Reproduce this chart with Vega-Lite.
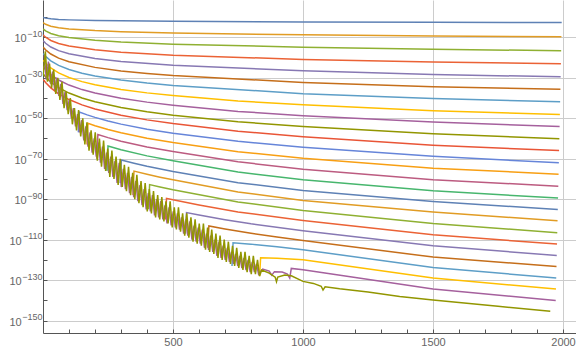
{
"$schema": "https://vega.github.io/schema/vega-lite/v6.json",
"width": 533, "height": 333,
"autosize": {"type": "none"},
"padding": {"left": 43, "top": 0, "right": 0, "bottom": 15},
"background": "white",
"config": {"view": {"stroke": null}},
"data": {"values": [
{"k":1,"x":1,"y":7.2e-1},{"k":1,"x":3,"y":5.4e-1},{"k":1,"x":10,"y":2.8e-1},{"k":1,"x":30,"y":1.2e-1},{"k":1,"x":60,"y":6.17e-2},{"k":1,"x":100,"y":3.8e-2},{"k":1,"x":200,"y":1.95e-2},{"k":1,"x":300,"y":1.32e-2},{"k":1,"x":500,"y":7.94e-3},{"k":1,"x":1000,"y":3.72e-3},{"k":1,"x":1500,"y":2.51e-3},{"k":1,"x":1995,"y":1.74e-3},
{"k":2,"x":1,"y":1.74e-3},{"k":2,"x":3,"y":1e-3},{"k":2,"x":10,"y":2.51e-4},{"k":2,"x":30,"y":2.95e-5},{"k":2,"x":60,"y":5.25e-6},{"k":2,"x":100,"y":1.35e-6},{"k":2,"x":200,"y":1.91e-7},{"k":2,"x":300,"y":5.89e-8},{"k":2,"x":500,"y":1.32e-8},{"k":2,"x":1000,"y":1.51e-9},{"k":2,"x":1500,"y":4.37e-10},{"k":2,"x":1994,"y":1.78e-10},
{"k":3,"x":1,"y":1.35e-6},{"k":3,"x":3,"y":7.41e-7},{"k":3,"x":10,"y":1.45e-7},{"k":3,"x":30,"y":7.59e-9},{"k":3,"x":60,"y":5.89e-10},{"k":3,"x":100,"y":6.92e-11},{"k":3,"x":200,"y":3.09e-12},{"k":3,"x":300,"y":4.57e-13},{"k":3,"x":500,"y":3.89e-14},{"k":3,"x":1000,"y":1.15e-15},{"k":3,"x":1500,"y":1.2e-16},{"k":3,"x":1993,"y":2.19e-17},
{"k":4,"x":1,"y":1.62e-9},{"k":4,"x":3,"y":7.94e-10},{"k":4,"x":10,"y":1.07e-10},{"k":4,"x":30,"y":2.45e-12},{"k":4,"x":60,"y":8.32e-14},{"k":4,"x":100,"y":4.57e-15},{"k":4,"x":200,"y":6.17e-17},{"k":4,"x":300,"y":4.37e-18},{"k":4,"x":500,"y":1.45e-19},{"k":4,"x":1000,"y":9.77e-22},{"k":4,"x":1500,"y":5.75e-23},{"k":4,"x":1992,"y":7.41e-24},
{"k":5,"x":1,"y":2e-12},{"k":5,"x":3,"y":9.55e-13},{"k":5,"x":10,"y":1.07e-13},{"k":5,"x":30,"y":1.45e-15},{"k":5,"x":60,"y":2.45e-17},{"k":5,"x":100,"y":7.08e-19},{"k":5,"x":200,"y":3.24e-21},{"k":5,"x":300,"y":1.15e-22},{"k":5,"x":500,"y":1.51e-24},{"k":5,"x":1000,"y":2.51e-27},{"k":5,"x":1500,"y":3.98e-29},{"k":5,"x":1991,"y":2.82e-30},
{"k":6,"x":1,"y":1.29e-15},{"k":6,"x":3,"y":6.03e-16},{"k":6,"x":10,"y":6.03e-17},{"k":6,"x":30,"y":5.13e-19},{"k":6,"x":60,"y":5.01e-21},{"k":6,"x":100,"y":7.76e-23},{"k":6,"x":200,"y":1.29e-25},{"k":6,"x":300,"y":2.34e-27},{"k":6,"x":400,"y":1.26e-28},{"k":6,"x":500,"y":1.23e-29},{"k":6,"x":1000,"y":5.01e-33},{"k":6,"x":1500,"y":3.98e-35},{"k":6,"x":1990,"y":1.78e-36},
{"k":7,"x":1,"y":8.71e-19},{"k":7,"x":3,"y":3.98e-19},{"k":7,"x":10,"y":3.63e-20},{"k":7,"x":30,"y":2.19e-22},{"k":7,"x":60,"y":1.23e-24},{"k":7,"x":100,"y":1.12e-26},{"k":7,"x":150,"y":1.66e-28},{"k":7,"x":200,"y":7.08e-30},{"k":7,"x":300,"y":6.76e-32},{"k":7,"x":400,"y":2.19e-33},{"k":7,"x":500,"y":1.45e-34},{"k":7,"x":1000,"y":1.26e-38},{"k":7,"x":1500,"y":5.01e-41},{"k":7,"x":1989,"y":1.26e-42},
{"k":8,"x":1,"y":3.89e-22},{"k":8,"x":10,"y":1.48e-23},{"k":8,"x":30,"y":6.61e-26},{"k":8,"x":60,"y":2.4e-28},{"k":8,"x":100,"y":1.29e-30},{"k":8,"x":150,"y":1.17e-32},{"k":8,"x":200,"y":3.31e-34},{"k":8,"x":300,"y":1.66e-36},{"k":8,"x":400,"y":3.31e-38},{"k":8,"x":500,"y":1.48e-39},{"k":8,"x":750,"y":3.16e-42},{"k":8,"x":1000,"y":3.98e-44},{"k":8,"x":1500,"y":5.01e-47},{"k":8,"x":1988,"y":6.31e-49},
{"k":9,"x":1,"y":2.51e-25},{"k":9,"x":10,"y":8.71e-27},{"k":9,"x":30,"y":3.02e-29},{"k":9,"x":60,"y":7.24e-32},{"k":9,"x":100,"y":2.4e-34},{"k":9,"x":150,"y":1.38e-36},{"k":9,"x":200,"y":2.63e-38},{"k":9,"x":300,"y":7.08e-41},{"k":9,"x":400,"y":8.91e-43},{"k":9,"x":500,"y":2.75e-44},{"k":9,"x":750,"y":2.34e-47},{"k":9,"x":1000,"y":1.58e-49},{"k":9,"x":1500,"y":1.26e-52},{"k":9,"x":1987,"y":7.94e-55},
{"k":10,"x":1,"y":7.94e-29},{"k":10,"x":10,"y":2.63e-30},{"k":10,"x":30,"y":7.24e-33},{"k":10,"x":60,"y":1.23e-35},{"k":10,"x":100,"y":2.63e-38},{"k":10,"x":150,"y":9.55e-41},{"k":10,"x":200,"y":1.26e-42},{"k":10,"x":300,"y":1.86e-45},{"k":10,"x":400,"y":1.48e-47},{"k":10,"x":500,"y":3.16e-49},{"k":10,"x":750,"y":1.66e-52},{"k":10,"x":1000,"y":7.94e-55},{"k":10,"x":1500,"y":2e-58},{"k":10,"x":1986,"y":7.94e-61},
{"k":11,"x":1,"y":1.32e-31},{"k":11,"x":10,"y":4.27e-33},{"k":11,"x":30,"y":9.55e-36},{"k":11,"x":60,"y":1.15e-38},{"k":11,"x":100,"y":1.66e-41},{"k":11,"x":150,"y":3.89e-44},{"k":11,"x":200,"y":3.55e-46},{"k":11,"x":300,"y":3.02e-49},{"k":11,"x":400,"y":1.51e-51},{"k":11,"x":500,"y":2.24e-53},{"k":11,"x":750,"y":3.8e-57},{"k":11,"x":1000,"y":7.94e-60},{"k":11,"x":1500,"y":5.01e-64},{"k":11,"x":1985,"y":1e-66},
{"k":12,"x":136,"y":1e-57},{"k":12,"x":140,"y":1.23e-47},{"k":12,"x":170,"y":4.57e-49},{"k":12,"x":200,"y":2.51e-50},{"k":12,"x":250,"y":3.98e-52},{"k":12,"x":300,"y":1.2e-53},{"k":12,"x":400,"y":3.98e-56},{"k":12,"x":500,"y":4.07e-58},{"k":12,"x":750,"y":3.72e-62},{"k":12,"x":1000,"y":5.01e-65},{"k":12,"x":1500,"y":1.58e-69},{"k":12,"x":1984,"y":1e-72},
{"k":13,"x":169,"y":1e-63},{"k":13,"x":173,"y":3.31e-53},{"k":13,"x":200,"y":2.09e-54},{"k":13,"x":250,"y":2.51e-56},{"k":13,"x":300,"y":5.89e-58},{"k":13,"x":400,"y":1.26e-60},{"k":13,"x":500,"y":9.33e-63},{"k":13,"x":750,"y":2.95e-67},{"k":13,"x":1000,"y":1.86e-70},{"k":13,"x":1500,"y":2.19e-75},{"k":13,"x":1983,"y":2.4e-78},
{"k":14,"x":207,"y":1e-70},{"k":14,"x":211,"y":9.33e-59},{"k":14,"x":250,"y":2.57e-60},{"k":14,"x":300,"y":4.68e-62},{"k":14,"x":400,"y":6.61e-65},{"k":14,"x":500,"y":3.39e-67},{"k":14,"x":750,"y":2.82e-72},{"k":14,"x":1000,"y":6.92e-76},{"k":14,"x":1500,"y":3.63e-81},{"k":14,"x":1982,"y":2.82e-84},
{"k":15,"x":246,"y":1e-76},{"k":15,"x":250,"y":1.82e-64},{"k":15,"x":300,"y":2.63e-66},{"k":15,"x":400,"y":2.45e-69},{"k":15,"x":500,"y":8.71e-72},{"k":15,"x":750,"y":2.82e-77},{"k":15,"x":1000,"y":3.63e-81},{"k":15,"x":1500,"y":1.35e-86},{"k":15,"x":1981,"y":3.39e-90},
{"k":16,"x":297,"y":1e-82},{"k":16,"x":301,"y":2.51e-71},{"k":16,"x":350,"y":6.03e-73},{"k":16,"x":400,"y":1.86e-74},{"k":16,"x":500,"y":4.57e-77},{"k":16,"x":750,"y":1.48e-82},{"k":16,"x":1000,"y":1.91e-86},{"k":16,"x":1500,"y":7.08e-92},{"k":16,"x":1980,"y":7.94e-96},
{"k":17,"x":346,"y":1e-88},{"k":17,"x":350,"y":7.59e-77},{"k":17,"x":400,"y":2e-78},{"k":17,"x":450,"y":7.24e-80},{"k":17,"x":500,"y":3.63e-81},{"k":17,"x":750,"y":3.89e-87},{"k":17,"x":1000,"y":2.24e-91},{"k":17,"x":1500,"y":4.17e-97},{"k":17,"x":1979,"y":2.14e-101},
{"k":18,"x":406,"y":1e-95},{"k":18,"x":410,"y":1.55e-83},{"k":18,"x":450,"y":1.02e-84},{"k":18,"x":500,"y":4.27e-86},{"k":18,"x":750,"y":4.47e-92},{"k":18,"x":1000,"y":2.57e-96},{"k":18,"x":1500,"y":1e-102},{"k":18,"x":1978,"y":2.51e-107},
{"k":19,"x":471,"y":1e-100},{"k":19,"x":475,"y":2.51e-90},{"k":19,"x":500,"y":4.9e-91},{"k":19,"x":600,"y":1.48e-93},{"k":19,"x":750,"y":5.25e-97},{"k":19,"x":1000,"y":3.02e-101},{"k":19,"x":1500,"y":2.63e-108},{"k":19,"x":1977,"y":6.61e-113},
{"k":20,"x":548,"y":1e-107},{"k":20,"x":552,"y":2.29e-97},{"k":20,"x":600,"y":1.38e-98},{"k":20,"x":700,"y":6.92e-101},{"k":20,"x":800,"y":6.61e-103},{"k":20,"x":1000,"y":2.45e-106},{"k":20,"x":1500,"y":9.55e-114},{"k":20,"x":1976,"y":1.58e-118},
{"k":21,"x":634,"y":1e-114},{"k":21,"x":638,"y":5.62e-104},{"k":21,"x":700,"y":2.04e-105},{"k":21,"x":800,"y":1.55e-107},{"k":21,"x":900,"y":2.04e-109},{"k":21,"x":1000,"y":3.98e-111},{"k":21,"x":1500,"y":2.57e-119},{"k":21,"x":1975,"y":5.89e-124},
{"k":22,"x":727,"y":1e-123},{"k":22,"x":731,"y":3.16e-112},{"k":22,"x":800,"y":6.31e-113},{"k":22,"x":900,"y":3.16e-114},{"k":22,"x":1000,"y":1.02e-115},{"k":22,"x":1500,"y":1.86e-124},{"k":22,"x":1974,"y":1.1e-129},
{"k":23,"x":833,"y":1e-128},{"k":23,"x":837,"y":1.26e-119},{"k":23,"x":900,"y":6.31e-120},{"k":23,"x":1000,"y":1.17e-120},{"k":23,"x":1500,"y":1.1e-129},{"k":23,"x":1973,"y":4.07e-135},
{"k":24,"x":5,"y":1e-19},{"k":24,"x":13,"y":1e-31},{"k":24,"x":21,"y":1e-22},{"k":24,"x":29,"y":1e-33},{"k":24,"x":37,"y":1e-27},{"k":24,"x":45,"y":1e-36},{"k":24,"x":53,"y":1e-30},{"k":24,"x":61,"y":1e-39},{"k":24,"x":69,"y":1e-33},{"k":24,"x":77,"y":1e-43},{"k":24,"x":85,"y":1e-37},{"k":24,"x":93,"y":1e-46},{"k":24,"x":101,"y":1e-41},{"k":24,"x":109,"y":1e-50},{"k":24,"x":117,"y":1e-45},{"k":24,"x":125,"y":1e-54},{"k":24,"x":133,"y":1e-48},{"k":24,"x":141,"y":1e-57},{"k":24,"x":149,"y":1e-51},{"k":24,"x":157,"y":1e-61},{"k":24,"x":165,"y":1e-54},{"k":24,"x":173,"y":1e-64},{"k":24,"x":181,"y":1e-57},{"k":24,"x":189,"y":1e-67},{"k":24,"x":197,"y":1e-60},{"k":24,"x":205,"y":1e-69},{"k":24,"x":213,"y":1e-62},{"k":24,"x":221,"y":1e-72},{"k":24,"x":229,"y":1e-64},{"k":24,"x":237,"y":1e-75},{"k":24,"x":245,"y":1e-67},{"k":24,"x":253,"y":1e-77},{"k":24,"x":261,"y":1e-69},{"k":24,"x":269,"y":1e-79},{"k":24,"x":277,"y":1e-71},{"k":24,"x":285,"y":1e-82},{"k":24,"x":293,"y":1e-72},{"k":24,"x":301,"y":1e-84},{"k":24,"x":309,"y":1e-75},{"k":24,"x":317,"y":1e-85},{"k":24,"x":325,"y":1e-77},{"k":24,"x":333,"y":1e-87},{"k":24,"x":341,"y":1e-79},{"k":24,"x":349,"y":1e-89},{"k":24,"x":357,"y":1e-81},{"k":24,"x":365,"y":1e-91},{"k":24,"x":373,"y":1e-83},{"k":24,"x":381,"y":1e-93},{"k":24,"x":389,"y":1e-85},{"k":24,"x":397,"y":1e-95},{"k":24,"x":405,"y":1e-87},{"k":24,"x":413,"y":1e-96},{"k":24,"x":421,"y":1e-88},{"k":24,"x":429,"y":1e-98},{"k":24,"x":437,"y":1e-90},{"k":24,"x":445,"y":1e-99},{"k":24,"x":453,"y":1e-91},{"k":24,"x":461,"y":1e-100},{"k":24,"x":469,"y":1e-93},{"k":24,"x":477,"y":1e-102},{"k":24,"x":485,"y":1e-94},{"k":24,"x":493,"y":1e-103},{"k":24,"x":501,"y":1e-96},{"k":24,"x":509,"y":1e-104},{"k":24,"x":517,"y":1e-97},{"k":24,"x":525,"y":1e-105},{"k":24,"x":533,"y":1e-99},{"k":24,"x":541,"y":1e-107},{"k":24,"x":549,"y":1e-100},{"k":24,"x":557,"y":1e-108},{"k":24,"x":565,"y":1e-101},{"k":24,"x":573,"y":1e-110},{"k":24,"x":581,"y":1e-103},{"k":24,"x":589,"y":1e-111},{"k":24,"x":597,"y":1e-104},{"k":24,"x":605,"y":1e-112},{"k":24,"x":613,"y":1e-105},{"k":24,"x":621,"y":1e-114},{"k":24,"x":629,"y":1e-107},{"k":24,"x":637,"y":1e-115},{"k":24,"x":645,"y":1e-108},{"k":24,"x":653,"y":1e-116},{"k":24,"x":661,"y":1e-110},{"k":24,"x":669,"y":1e-118},{"k":24,"x":677,"y":1e-111},{"k":24,"x":685,"y":1e-119},{"k":24,"x":693,"y":1e-113},{"k":24,"x":701,"y":1e-120},{"k":24,"x":709,"y":1e-114},{"k":24,"x":717,"y":1e-121},{"k":24,"x":725,"y":1e-116},{"k":24,"x":733,"y":1e-122},{"k":24,"x":741,"y":1e-117},{"k":24,"x":749,"y":1e-123},{"k":24,"x":757,"y":1e-118},{"k":24,"x":765,"y":1e-124},{"k":24,"x":773,"y":1e-119},{"k":24,"x":781,"y":1e-125},{"k":24,"x":789,"y":1e-120},{"k":24,"x":797,"y":1e-126},{"k":24,"x":805,"y":1e-121},{"k":24,"x":813,"y":1e-126},{"k":24,"x":821,"y":1e-122},{"k":24,"x":829,"y":1e-127},{"k":24,"x":845,"y":3.16e-125},{"k":24,"x":870,"y":3.16e-126},{"k":24,"x":880,"y":3.16e-128},{"k":24,"x":890,"y":1.58e-126},{"k":24,"x":920,"y":1e-126},{"k":24,"x":940,"y":1e-127},{"k":24,"x":949,"y":1e-129},{"k":24,"x":955,"y":6.31e-125},{"k":24,"x":1000,"y":1.38e-125},{"k":24,"x":1500,"y":4.07e-135},{"k":24,"x":1972,"y":9.55e-141},
{"k":25,"x":1,"y":1e-29},{"k":25,"x":9,"y":1e-17},{"k":25,"x":17,"y":1e-32},{"k":25,"x":25,"y":1e-23},{"k":25,"x":33,"y":1e-35},{"k":25,"x":41,"y":1e-26},{"k":25,"x":49,"y":1e-38},{"k":25,"x":57,"y":1e-30},{"k":25,"x":65,"y":1e-41},{"k":25,"x":73,"y":1e-32},{"k":25,"x":81,"y":1e-45},{"k":25,"x":89,"y":1e-37},{"k":25,"x":97,"y":1e-48},{"k":25,"x":105,"y":1e-40},{"k":25,"x":113,"y":1e-53},{"k":25,"x":121,"y":1e-45},{"k":25,"x":129,"y":1e-56},{"k":25,"x":137,"y":1e-46},{"k":25,"x":145,"y":1e-59},{"k":25,"x":153,"y":1e-50},{"k":25,"x":161,"y":1e-63},{"k":25,"x":169,"y":1e-52},{"k":25,"x":177,"y":1e-66},{"k":25,"x":185,"y":1e-56},{"k":25,"x":193,"y":1e-68},{"k":25,"x":201,"y":1e-57},{"k":25,"x":209,"y":1e-71},{"k":25,"x":217,"y":1e-60},{"k":25,"x":225,"y":1e-74},{"k":25,"x":233,"y":1e-61},{"k":25,"x":241,"y":1e-76},{"k":25,"x":249,"y":1e-65},{"k":25,"x":257,"y":1e-79},{"k":25,"x":265,"y":1e-66},{"k":25,"x":273,"y":1e-80},{"k":25,"x":281,"y":1e-69},{"k":25,"x":289,"y":1e-83},{"k":25,"x":297,"y":1e-70},{"k":25,"x":305,"y":1e-84},{"k":25,"x":313,"y":1e-73},{"k":25,"x":321,"y":1e-86},{"k":25,"x":329,"y":1e-74},{"k":25,"x":337,"y":1e-88},{"k":25,"x":345,"y":1e-77},{"k":25,"x":353,"y":1e-90},{"k":25,"x":361,"y":1e-78},{"k":25,"x":369,"y":1e-92},{"k":25,"x":377,"y":1e-81},{"k":25,"x":385,"y":1e-94},{"k":25,"x":393,"y":1e-82},{"k":25,"x":401,"y":1e-96},{"k":25,"x":409,"y":1e-85},{"k":25,"x":417,"y":1e-97},{"k":25,"x":425,"y":1e-86},{"k":25,"x":433,"y":1e-99},{"k":25,"x":441,"y":1e-88},{"k":25,"x":449,"y":1e-100},{"k":25,"x":457,"y":1e-89},{"k":25,"x":465,"y":1e-101},{"k":25,"x":473,"y":1e-91},{"k":25,"x":481,"y":1e-102},{"k":25,"x":489,"y":1e-91},{"k":25,"x":497,"y":1e-104},{"k":25,"x":505,"y":1e-94},{"k":25,"x":513,"y":1e-105},{"k":25,"x":521,"y":1e-94},{"k":25,"x":529,"y":1e-106},{"k":25,"x":537,"y":1e-97},{"k":25,"x":545,"y":1e-108},{"k":25,"x":553,"y":1e-97},{"k":25,"x":561,"y":1e-109},{"k":25,"x":569,"y":1e-99},{"k":25,"x":577,"y":1e-111},{"k":25,"x":585,"y":1e-100},{"k":25,"x":593,"y":1e-112},{"k":25,"x":601,"y":1e-102},{"k":25,"x":609,"y":1e-113},{"k":25,"x":617,"y":1e-102},{"k":25,"x":625,"y":1e-115},{"k":25,"x":633,"y":1e-104},{"k":25,"x":641,"y":1e-116},{"k":25,"x":649,"y":1e-105},{"k":25,"x":657,"y":1e-117},{"k":25,"x":665,"y":1e-107},{"k":25,"x":673,"y":1e-119},{"k":25,"x":681,"y":1e-108},{"k":25,"x":689,"y":1e-120},{"k":25,"x":697,"y":1e-110},{"k":25,"x":705,"y":1e-121},{"k":25,"x":713,"y":1e-111},{"k":25,"x":721,"y":1e-122},{"k":25,"x":729,"y":1e-113},{"k":25,"x":737,"y":1e-123},{"k":25,"x":745,"y":1e-114},{"k":25,"x":753,"y":1e-124},{"k":25,"x":761,"y":1e-116},{"k":25,"x":769,"y":1e-125},{"k":25,"x":777,"y":1e-116},{"k":25,"x":785,"y":1e-126},{"k":25,"x":793,"y":1e-118},{"k":25,"x":801,"y":1e-127},{"k":25,"x":809,"y":1e-118},{"k":25,"x":817,"y":1e-127},{"k":25,"x":825,"y":1e-120},{"k":25,"x":833,"y":1e-128},
{"k":25,"x":841,"y":1e-125},{"k":25,"x":870,"y":3.16e-127},{"k":25,"x":893,"y":3.16e-129},{"k":25,"x":898,"y":1.58e-131},{"k":25,"x":903,"y":3.16e-129},{"k":25,"x":930,"y":3.16e-128},{"k":25,"x":955,"y":1.58e-128},{"k":25,"x":1000,"y":2.51e-131},{"k":25,"x":1040,"y":2.51e-132},{"k":25,"x":1070,"y":1e-133},{"k":25,"x":1077,"y":1.26e-135},{"k":25,"x":1085,"y":5.01e-134},{"k":25,"x":1141,"y":5.01e-135},{"k":25,"x":1250,"y":1.26e-136},{"k":25,"x":1372,"y":7.94e-139},{"k":25,"x":1500,"y":1.58e-140},{"k":25,"x":1750,"y":1.26e-143},{"k":25,"x":1951,"y":3.98e-146}
]},
"encoding": {
  "x": {"field": "x", "type": "quantitative",
    "scale": {"domain": [0, 2050], "nice": false, "zero": false},
    "axis": {"title": null, "values": [100,200,300,400,500,600,700,800,900,1000,1100,1200,1300,1400,1500,1600,1700,1800,1900,2000],
      "format": "d", "labelExpr": "datum.value % 500 == 0 ? datum.label : ''",
      "grid": true, "gridColor": "#cccccc", "gridWidth": 1,
      "gridOpacity": {"condition": {"test": "datum.value % 500 != 0", "value": 0}, "value": 1},
      "tickSize": -4, "tickColor": "#555555", "domainColor": "#555555",
      "labelColor": "#666666", "labelFont": "Liberation Sans", "labelFontSize": 11,
      "labelPadding": 7, "labelFlush": false, "labelOverlap": false, "labelBound": false}},
  "color": {"field": "k", "type": "nominal", "legend": null,
    "scale": {"domain": [1,2,3,4,5,6,7,8,9,10,11,12,13,14,15,16,17,18,19,20,21,22,23,24,25],
      "range": ["#5E81B5","#E19C24","#8FB032","#EB6235","#8778B3","#C56E1A","#5D9EC7","#FFBF00","#A5609D","#929600","#E95536","#6685D9","#F89F13","#BC5B80","#47B66D","#5E81B5","#E19C24","#8FB032","#EB6235","#8778B3","#C56E1A","#5D9EC7","#FFBF00","#A5609D","#929600"]}}
},
"layer": [
  {"transform": [{"filter": "datum.k < 25"}],
   "mark": {"type": "line", "strokeWidth": 1.5, "clip": true},
   "encoding": {"y": {"field": "y", "type": "quantitative",
    "scale": {"type": "log", "domain": [7.9e-157, 2.5e8], "nice": false},
    "axis": {"orient": "left", "title": null, "values": [1,1e-10,1e-20,1e-30,1e-40,1e-50,1e-60,1e-70,1e-80,1e-90,1e-100,1e-110,1e-120,1e-130,1e-140,1e-150],
      "labelExpr": "round(log(datum.value)/LN10) % 20 == 0 ? '' : '−' + toString(abs(round(log(datum.value)/LN10)))",
      "grid": true, "gridColor": "#cccccc", "gridWidth": 1,
      "gridOpacity": {"condition": {"test": "round(log(datum.value)/LN10) % 20 == 0", "value": 0}, "value": 1},
      "tickSize": -4, "tickColor": "#555555", "domainColor": "#555555",
      "labelColor": "#666666", "labelFont": "Liberation Sans", "labelFontSize": 9,
      "labelOffset": -4, "labelPadding": 5, "labelFlush": false, "labelOverlap": false, "labelBound": false}}}},
  {"transform": [{"filter": "datum.k == 25"}],
   "mark": {"type": "line", "strokeWidth": 1.5, "clip": true},
   "encoding": {"y": {"field": "y", "type": "quantitative",
    "scale": {"type": "log", "domain": [7.9e-157, 2.5e8], "nice": false},
    "axis": {"orient": "left", "title": null, "values": [1,1e-10,1e-20,1e-30,1e-40,1e-50,1e-60,1e-70,1e-80,1e-90,1e-100,1e-110,1e-120,1e-130,1e-140,1e-150],
      "labelExpr": "round(log(datum.value)/LN10) % 20 == 0 ? '' : '10'",
      "grid": false, "domain": false, "tickSize": -4, "tickOpacity": 0,
      "labelColor": "#666666", "labelFont": "Liberation Sans", "labelFontSize": 11,
      "labelOffset": 1.5,
      "labelPadding": {"condition": {"test": "abs(round(log(datum.value)/LN10)) >= 100", "value": 25.8}, "value": 20.8},
      "labelFlush": false, "labelOverlap": false, "labelBound": false}}}}
],
"resolve": {"axis": {"y": "independent"}}
}
